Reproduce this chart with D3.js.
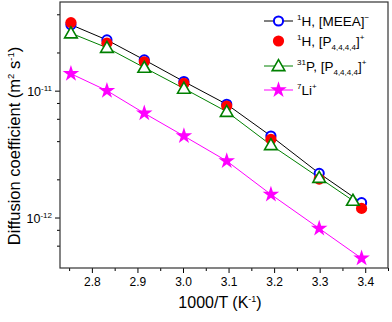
<!DOCTYPE html>
<html lang="en">
<head>
<meta charset="utf-8">
<title>Diffusion coefficient</title>
<style type="text/css">
  body { margin: 0; background: #fff; }
  svg { font-family: "Liberation Sans", Arial, sans-serif; font-weight: normal; }
</style>
</head>
<body>
<script src="https://d3js.org/d3.v7.min.js"></script>
<script>

    // values
    var invT    = [2.754, 2.833, 2.915, 3.002, 3.096, 3.193, 3.299, 3.392];
    var invTP   = [2.754, 2.833, 2.915, 3.002, 3.096, 3.193, 3.299, 3.373];
    var hMEEA   = [3.31e-11, 2.51e-11, 1.75e-11, 1.18e-11, 7.81e-12, 4.39e-12, 2.23e-12, 1.31e-12];
    var hP4444  = [3.44e-11, 2.37e-11, 1.69e-11, 1.14e-11, 7.57e-12, 4.14e-12, 2.01e-12, 1.18e-12];
    var pP4444  = [2.84e-11, 2.18e-11, 1.52e-11, 1.04e-11, 6.83e-12, 3.73e-12, 2.06e-12, 1.36e-12];
    var li7     = [1.36e-11, 1.00e-11, 6.64e-12, 4.39e-12, 2.79e-12, 1.52e-12, 8.2e-13, 4.77e-13];
    var xTicks  = [2.8, 2.9, 3.0, 3.1, 3.2, 3.3, 3.4];
    var yMajor  = [1e-12, 1e-11];

    var margin = {top: 2, right: 4, bottom: 54, left: 60},
        width = 392 - margin.left - margin.right,
        height = 322 - margin.top - margin.bottom;

    var svg = d3.select("body").append("svg")
                .attr("width", 392)
                .attr("height", 322);

    var g = svg.append("g")
               .attr("transform", "translate(" + margin.left + "," + margin.top + ")");

    var xScale = d3.scaleLinear()
                   .domain([2.73, 3.45])
                   .range([0, width]);

    var yScale = d3.scaleLog()
                   .domain([4e-13, 5e-11])
                   .range([height, 0]);

    // x axis: major ticks with labels + minor ticks
    var xMinor = d3.range(2.75, 3.46, 0.1).map(function(d){ return +d.toFixed(2); });
    g.append("g")
     .attr("transform", "translate(0," + height + ")")
     .call(d3.axisBottom(xScale).tickValues(xMinor).tickSize(3).tickFormat(""))
     .call(function(s){ s.select(".domain").remove(); });

    var xAxisGroup = g.append("g")
        .attr("transform", "translate(0," + height + ")")
        .call(d3.axisBottom(xScale).tickValues(xTicks).tickSize(5).tickPadding(4)
              .tickFormat(d3.format(".1f")));
    xAxisGroup.select(".domain").remove();
    xAxisGroup.selectAll("text").attr("font-size", 12).attr("fill", "#000")
              .attr("font-family", "Liberation Sans, Arial, sans-serif");

    // y axis: decades labelled, minor ticks at 2,4,6,8
    var yMinor = [];
    [1e-13, 1e-12, 1e-11].forEach(function(dec){
        [2, 4, 6, 8].forEach(function(m){
            var v = dec * m;
            if (v > 4.01e-13 && v < 5e-11) yMinor.push(v);
        });
    });
    g.append("g")
     .call(d3.axisLeft(yScale).tickValues(yMinor).tickSize(3).tickFormat(""))
     .call(function(s){ s.select(".domain").remove(); });

    var yAxisGroup = g.append("g")
        .call(d3.axisLeft(yScale).tickValues(yMajor).tickSize(5).tickFormat(""));
    yAxisGroup.select(".domain").remove();

    yAxisGroup.selectAll(".tick").append("text")
        .attr("x", -8)
        .attr("dy", "0.38em")
        .attr("text-anchor", "end")
        .attr("fill", "#000")
        .attr("font-size", 12.5)
        .attr("font-family", "Liberation Sans, Arial, sans-serif")
        .each(function(d){
            var t = d3.select(this);
            t.append("tspan").text("10");
            t.append("tspan").attr("dy", -5).attr("font-size", 8)
             .text("-" + Math.round(-Math.log10(d)));
        });

    g.selectAll(".tick line").attr("stroke", "#000");

    // frame
    g.append("rect")
     .attr("width", width)
     .attr("height", height)
     .attr("fill", "none")
     .attr("stroke", "#333")
     .attr("stroke-width", 1.2);

    // axis titles
    var xt = svg.append("text")
        .attr("x", margin.left + width / 2 - 4)
        .attr("y", 308)
        .attr("text-anchor", "middle")
        .attr("font-size", 16);
    xt.append("tspan").text("1000/T (K");
    xt.append("tspan").attr("dy", -6).attr("font-size", 9).text("-1");
    xt.append("tspan").attr("dy", 6).text(")");

    var yt = svg.append("text")
        .attr("transform", "translate(20," + 146 + ") rotate(-90)")
        .attr("text-anchor", "middle")
        .attr("font-size", 16.5);
    yt.append("tspan").text("Diffusion coefficient (m");
    yt.append("tspan").attr("dy", -6).attr("font-size", 9.5).text("2");
    yt.append("tspan").attr("dy", 6).text(" s");
    yt.append("tspan").attr("dy", -6).attr("font-size", 9.5).text("-1");
    yt.append("tspan").attr("dy", 6).text(")");

    // lines
    function pts(xs, ys){ return xs.map(function(x, i){ return [x, ys[i]]; }); }
    var line = d3.line()
                 .x(function(d){ return xScale(d[0]); })
                 .y(function(d){ return yScale(d[1]); });

    g.append("path").datum(pts(invT, hMEEA)).attr("d", line)
     .attr("fill", "none").attr("stroke", "#000").attr("stroke-width", 1);
    g.append("path").datum(pts(invTP, pP4444)).attr("d", line)
     .attr("fill", "none").attr("stroke", "#008000").attr("stroke-width", 1);
    g.append("path").datum(pts(invT, li7)).attr("d", line)
     .attr("fill", "none").attr("stroke", "#ff00ff").attr("stroke-width", 1);

    // markers
    g.selectAll(".meea").data(pts(invT, hMEEA)).enter().append("circle")
     .attr("cx", function(d){ return xScale(d[0]); })
     .attr("cy", function(d){ return yScale(d[1]); })
     .attr("r", 4.6)
     .attr("fill", "#fff").attr("stroke", "#0000ff").attr("stroke-width", 2);

    g.selectAll(".p4h").data(pts(invT, hP4444)).enter().append("circle")
     .attr("cx", function(d){ return xScale(d[0]); })
     .attr("cy", function(d){ return yScale(d[1]); })
     .attr("r", 5.6)
     .attr("fill", "#ff0000");

    var tri = d3.symbol().type(d3.symbolTriangle).size(70);
    g.selectAll(".p31").data(pts(invTP, pP4444)).enter().append("path")
     .attr("d", tri)
     .attr("transform", function(d){ return "translate(" + xScale(d[0]) + "," + (yScale(d[1]) + 1) + ")"; })
     .attr("fill", "#fff").attr("stroke", "#008000").attr("stroke-width", 1.6);

    var star = d3.symbol().type(d3.symbolStar).size(85);
    g.selectAll(".li").data(pts(invT, li7)).enter().append("path")
     .attr("d", star)
     .attr("transform", function(d){ return "translate(" + xScale(d[0]) + "," + yScale(d[1]) + ")"; })
     .attr("fill", "#ff00ff");

    // legend
    var legend = svg.append("g").attr("transform", "translate(264,0)");
    var rows = [21, 41, 66, 90];

    function addRow(y, lineColor, drawMarker, parts){
        var row = legend.append("g").attr("transform", "translate(0," + y + ")");
        if (lineColor) {
            row.append("line").attr("x1", 0).attr("x2", 29)
               .attr("stroke", lineColor).attr("stroke-width", 1);
        }
        drawMarker(row.append("g").attr("transform", "translate(14.5,0)"));
        var t = row.append("text").attr("x", 33).attr("y", 5).attr("font-size", 13.5);
        parts.forEach(function(p){
            var ts = t.append("tspan").text(p.t);
            if (p.dy) ts.attr("dy", p.dy);
            if (p.fs) ts.attr("font-size", p.fs);
        });
    }

    addRow(rows[0], "#000", function(m){
        m.append("circle").attr("r", 4.6).attr("fill", "#fff")
         .attr("stroke", "#0000ff").attr("stroke-width", 2);
    }, [{t: "1", dy: -6, fs: 8}, {t: "H, [MEEA]", dy: 6}, {t: "\u2212", dy: -6, fs: 8}]);

    addRow(rows[1], null, function(m){
        m.append("circle").attr("r", 5.6).attr("fill", "#ff0000");
    }, [{t: "1", dy: -6, fs: 8}, {t: "H, [P", dy: 6}, {t: "4,4,4,4", dy: 4, fs: 8},
        {t: "]", dy: -4}, {t: "+", dy: -6, fs: 8}]);

    addRow(rows[2], "#008000", function(m){
        m.append("path").attr("d", tri).attr("transform", "translate(0,1)")
         .attr("fill", "#fff").attr("stroke", "#008000").attr("stroke-width", 1.6);
    }, [{t: "31", dy: -6, fs: 8}, {t: "P, [P", dy: 6}, {t: "4,4,4,4", dy: 4, fs: 8},
        {t: "]", dy: -4}, {t: "+", dy: -6, fs: 8}]);

    addRow(rows[3], "#ff00ff", function(m){
        m.append("path").attr("d", star).attr("fill", "#ff00ff");
    }, [{t: "7", dy: -6, fs: 8}, {t: "Li", dy: 6}, {t: "+", dy: -6, fs: 8}]);

</script>
</body>
</html>
